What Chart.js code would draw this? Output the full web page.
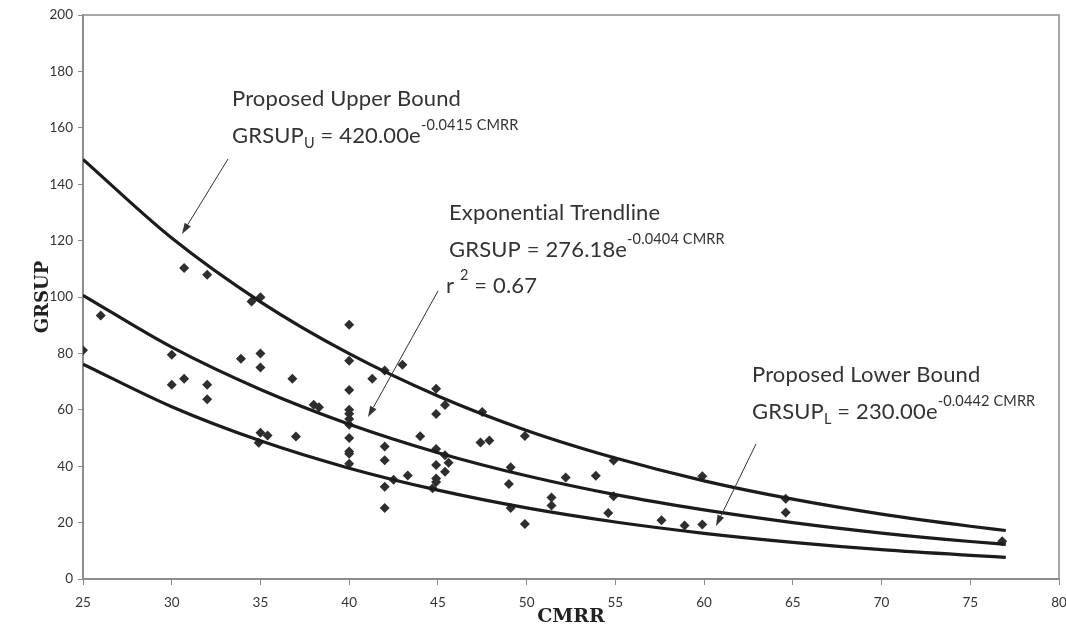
<!DOCTYPE html>
<html>
<head>
<meta charset="utf-8">
<script src="https://cdn.jsdelivr.net/npm/chart.js@4.4.1/dist/chart.umd.min.js"></script>
<style>
html,body{margin:0;padding:0;background:#fff;}
#wrap{width:1066px;height:629px;position:relative;}
</style>
</head>
<body>
<div id="wrap"><canvas id="c" width="1066" height="629"></canvas></div>
<script>
// ---- data ----
const cmrrValues = [
  25.0, 26.0, 30.0, 30.0, 30.7, 30.7, 32.0, 32.0, 32.0, 33.9,
  34.5, 35.0, 35.0, 35.0, 35.0, 35.4, 34.9, 36.8, 37.0, 38.0,
  38.3, 40.0, 40.0, 40.0, 40.0, 40.0, 40.0, 40.0, 40.0, 40.0,
  40.0, 40.0, 41.3, 42.0, 43.0, 42.0, 42.0, 42.0, 42.0, 42.5,
  43.3, 44.0, 44.9, 45.4, 44.9, 44.9, 45.4, 45.6, 44.9, 45.4,
  44.9, 44.9, 44.7, 47.5, 47.4, 47.9, 49.9, 49.1, 49.0, 49.1,
  49.9, 52.2, 51.4, 51.4, 53.9, 54.9, 54.9, 54.6, 57.6, 58.9,
  59.9, 59.9, 64.6, 64.6, 76.8
];
const grsupValues = [
  81.1, 93.4, 79.5, 68.9, 110.3, 71.0, 107.9, 68.9, 63.7, 78.1,
  98.4, 99.9, 80.0, 75.0, 51.9, 50.9, 48.3, 71.0, 50.5, 61.8,
  60.9, 90.2, 77.4, 67.0, 60.0, 58.6, 56.7, 54.7, 50.0, 45.2,
  44.4, 40.9, 71.0, 73.9, 76.0, 47.0, 42.1, 32.7, 25.2, 35.2,
  36.7, 50.6, 67.5, 61.7, 58.5, 46.1, 43.9, 41.2, 40.4, 38.0,
  35.6, 34.4, 32.2, 59.2, 48.4, 49.1, 50.7, 39.6, 33.7, 25.2,
  19.5, 36.0, 28.9, 26.1, 36.6, 42.0, 29.3, 23.4, 20.8, 19.0,
  19.3, 36.4, 28.5, 23.6, 13.4
];
const curveCMRR   = [25, 30, 35, 40, 45, 50, 55, 60, 65, 70, 75, 77];
const upperBound  = [148.8, 120.9, 98.3, 79.9, 64.9, 52.7, 42.9, 34.8, 28.3, 23.0, 18.7, 17.2];
const trendline   = [100.6, 82.2, 67.2, 54.9, 44.8, 36.6, 29.9, 24.5, 20.0, 16.3, 13.3, 12.3];
const lowerBound  = [76.2, 61.1, 49.0, 39.3, 31.5, 25.2, 20.2, 16.2, 13.0, 10.4, 8.4, 7.7];
const xTickValues = [25, 30, 35, 40, 45, 50, 55, 60, 65, 70, 75, 80];
const yTickValues = [0, 20, 40, 60, 80, 100, 120, 140, 160, 180, 200];

// ---- build datasets ----
const pts = cmrrValues.map((x, i) => ({x: x, y: grsupValues[i]}));
const curve = arr => curveCMRR.map((x, i) => ({x: x, y: arr[i]}));

const lineStyle = {
  showLine: true, pointRadius: 0, pointHoverRadius: 0,
  borderColor: '#1b1b1b', borderWidth: 3.2, fill: false,
  cubicInterpolationMode: 'monotone'
};

const TEXT = '#333333';
const annFont = 'Lato, "Open Sans", sans-serif';
const annotations = [
  {x: 232, y: 106, runs: [{t: 'Proposed Upper Bound'}]},
  {x: 232, y: 143, runs: [{t: 'GRSUP'}, {t: 'U', sub: true}, {t: ' = 420.00e'}, {t: '-0.0415 CMRR', sup: true}]},
  {x: 449, y: 220, runs: [{t: 'Exponential Trendline'}]},
  {x: 449, y: 257, runs: [{t: 'GRSUP = 276.18e'}, {t: '-0.0404 CMRR', sup: true}]},
  {x: 446, y: 293, runs: [{t: 'r '}, {t: '2', sup: true}, {t: ' = 0.67'}]},
  {x: 752, y: 382, runs: [{t: 'Proposed Lower Bound'}]},
  {x: 752, y: 419, runs: [{t: 'GRSUP'}, {t: 'L', sub: true}, {t: ' = 230.00e'}, {t: '-0.0442 CMRR', sup: true}]}
];
const arrows = [
  {x1: 228, y1: 159, x2: 182, y2: 234},
  {x1: 438, y1: 291, x2: 368, y2: 417},
  {x1: 756, y1: 444, x2: 716, y2: 526}
];

const annotationPlugin = {
  id: 'annotationPlugin',
  afterDatasetsDraw(chart) {
    const ctx = chart.ctx;
    const a = chart.chartArea;
    ctx.save();
    // frame
    ctx.strokeStyle = '#8c8c8c';
    ctx.lineWidth = 1.5;
    ctx.beginPath();
    ctx.moveTo(a.left, a.top);
    ctx.lineTo(a.right, a.top);
    ctx.lineTo(a.right, a.bottom);
    ctx.stroke();
    // arrows
    ctx.strokeStyle = '#333';
    ctx.fillStyle = '#333';
    ctx.lineWidth = 1;
    arrows.forEach(ar => {
      const ang = Math.atan2(ar.y2 - ar.y1, ar.x2 - ar.x1);
      const L = 11, W = 3.6;
      const bx = ar.x2 - L * Math.cos(ang), by = ar.y2 - L * Math.sin(ang);
      ctx.beginPath();
      ctx.moveTo(ar.x1, ar.y1);
      ctx.lineTo(bx, by);
      ctx.stroke();
      ctx.beginPath();
      ctx.moveTo(ar.x2, ar.y2);
      ctx.lineTo(bx + W * Math.sin(ang), by - W * Math.cos(ang));
      ctx.lineTo(bx - W * Math.sin(ang), by + W * Math.cos(ang));
      ctx.closePath();
      ctx.fill();
    });
    // texts
    ctx.fillStyle = TEXT;
    ctx.textBaseline = 'alphabetic';
    ctx.textAlign = 'left';
    if ('letterSpacing' in ctx) ctx.letterSpacing = '0.15px';
    annotations.forEach(an => {
      let x = an.x;
      an.runs.forEach(r => {
        let size = 22, dy = 0;
        if (r.sup) { size = 14.5; dy = -13; }
        if (r.sub) { size = 14.5; dy = 5; }
        ctx.font = size + 'px ' + annFont;
        ctx.fillText(r.t, x, an.y + dy);
        x += ctx.measureText(r.t).width;
      });
    });
    ctx.restore();
  }
};

const tickFont = {family: 'Lato, "Open Sans", sans-serif', size: 13.5};

new Chart(document.getElementById('c'), {
  type: 'scatter',
  data: {
    datasets: [
      Object.assign({label: 'Upper', data: curve(upperBound)}, lineStyle),
      Object.assign({label: 'Trend', data: curve(trendline)}, lineStyle),
      Object.assign({label: 'Lower', data: curve(lowerBound)}, lineStyle),
      {
        label: 'Data', data: pts, showLine: false,
        pointStyle: 'rectRot', pointRadius: 5, pointHoverRadius: 5,
        backgroundColor: '#2e2e2e', borderColor: '#2e2e2e', borderWidth: 0
      }
    ]
  },
  options: {
    responsive: false,
    animation: false,
    events: [],
    layout: {padding: {top: 15, right: 7, left: 0, bottom: 0}},
    plugins: {legend: {display: false}, tooltip: {enabled: false}},
    scales: {
      x: {
        type: 'linear', min: 25, max: 80,
        afterBuildTicks: s => { s.ticks = xTickValues.map(v => ({value: v})); },
        afterFit: s => { s.height = 50; s.paddingRight = 0; s.paddingLeft = 0; },
        grid: {drawOnChartArea: false, drawTicks: true, tickLength: 6, color: '#8c8c8c'},
        border: {color: '#8c8c8c', width: 2},
        ticks: {font: tickFont, color: '#333', padding: 10, maxRotation: 0, autoSkip: false},
        title: {display: true, text: 'CMRR', color: '#222',
          font: {family: '"DejaVu Serif", serif', size: 19, weight: 'bold'},
          padding: {top: 0, bottom: 0.6}}
      },
      y: {
        type: 'linear', min: 0, max: 200,
        afterBuildTicks: s => { s.ticks = yTickValues.map(v => ({value: v})); },
        afterFit: s => { s.width = 83; s.paddingTop = 0; s.paddingBottom = 0; },
        grid: {drawOnChartArea: false, drawTicks: true, tickLength: 5, color: '#8c8c8c'},
        border: {color: '#8c8c8c', width: 2},
        ticks: {font: tickFont, color: '#333', padding: 5},
        title: {display: true, text: 'GRSUP', color: '#222',
          font: {family: '"DejaVu Serif", serif', size: 18, weight: 'bold'},
          padding: {top: 32.2, bottom: 0}}
      }
    }
  },
  plugins: [annotationPlugin]
});
</script>
</body>
</html>
